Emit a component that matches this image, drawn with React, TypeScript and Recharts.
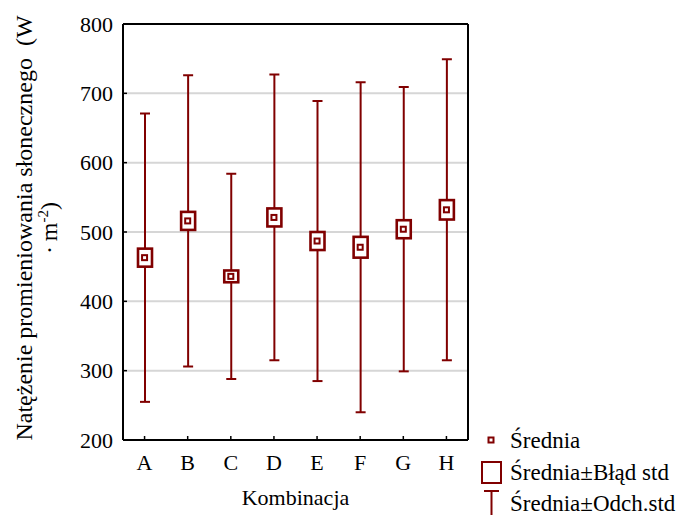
import {
  ComposedChart,
  Bar,
  Line,
  XAxis,
  YAxis,
  CartesianGrid,
} from "recharts";

// ─── Data ───────────────────────────────────────────────────────────────────
const categories = ["A", "B", "C", "D", "E", "F", "G", "H"];
const means = [463, 516, 436, 521, 487, 478, 504, 532];
const stdErr = [13, 13, 8.5, 13, 13, 15, 13, 14];
const stdDev = [208, 210, 148, 206, 202, 238, 205, 217];
const yTicks = [200, 300, 400, 500, 600, 700, 800];

const RED = "#800000";
const FONT = '"Liberation Serif", "Times New Roman", serif';

const data = categories.map((name, i) => ({
  name,
  mean: means[i],
  se: [means[i] - stdErr[i], means[i] + stdErr[i]],
  sd: [means[i] - stdDev[i], means[i] + stdDev[i]],
}));

// whisker: vertical line with caps at both ends
const Whisker = (props: any) => {
  const { x, y, width, height } = props;
  const cx = x + width / 2;
  const top = Math.min(y, y + height);
  const bot = Math.max(y, y + height);
  return (
    <g stroke={RED} strokeWidth={2} fill="none">
      <line x1={cx} x2={cx} y1={top} y2={bot} />
      <line x1={cx - 5} x2={cx + 5} y1={top} y2={top} />
      <line x1={cx - 5} x2={cx + 5} y1={bot} y2={bot} />
    </g>
  );
};

// mean ± std error box
const SeBox = (props: any) => {
  const { x, y, width, height } = props;
  const top = Math.min(y, y + height);
  return (
    <rect
      x={x}
      y={top}
      width={width}
      height={Math.abs(height)}
      fill="#fff"
      stroke={RED}
      strokeWidth={2.6}
    />
  );
};

const MeanDot = (props: any) => {
  const { cx, cy } = props;
  if (cx == null || cy == null) return null;
  return (
    <rect
      x={cx - 2.5}
      y={cy - 2.5}
      width={5}
      height={5}
      fill="#fff"
      stroke={RED}
      strokeWidth={2}
    />
  );
};

const YLabel = (props: any) => {
  const cy = props.viewBox.y + props.viewBox.height / 2;
  return (
    <g fontFamily={FONT} fontSize={24} fill="#000">
      <text x={32} y={cy - 4} textAnchor="middle" transform={`rotate(-90 32 ${cy - 4})`}>
        Natężenie promieniowania słonecznego{"\u00a0\u00a0"}(W
      </text>
      <text x={57} y={cy - 4} textAnchor="middle" transform={`rotate(-90 57 ${cy - 4})`}>
        {"·\u2009m"}
        <tspan dy={-9} fontSize={15}>
          -2
        </tspan>
        <tspan dy={9}>)</tspan>
      </text>
    </g>
  );
};

const XLabel = (props: any) => {
  const cx = props.viewBox.x + props.viewBox.width / 2;
  return (
    <text x={cx} y={505} textAnchor="middle" fontFamily={FONT} fontSize={22} fill="#000">
      Kombinacja
    </text>
  );
};

function LegendBox() {
  return (
    <svg
      width={681}
      height={515}
      style={{ position: "absolute", left: 0, top: 0, pointerEvents: "none" }}
    >
      <g fontFamily={FONT} fontSize={23} fill="#000">
        <rect x={488.5} y={437.5} width={5} height={5} fill="#fff" stroke={RED} strokeWidth={2} />
        <text x={510} y={448}>Średnia</text>
        <rect x={482} y={462} width={19} height={21} fill="#fff" stroke={RED} strokeWidth={2} />
        <text x={510} y={480}>Średnia±Błąd std</text>
        <line x1={484} x2={499} y1={491} y2={491} stroke={RED} strokeWidth={2} />
        <line x1={491.5} x2={491.5} y1={491} y2={515} stroke={RED} strokeWidth={2} />
        <text x={510} y={511}>Średnia±Odch.std</text>
      </g>
    </svg>
  );
}

export default function App() {
  const tickStyle = { fontSize: 22, fill: "#000", fontFamily: FONT };
  return (
    <div style={{ position: "absolute", left: 0, top: 0, width: 681, height: 515, background: "#fff" }}>
      <ComposedChart
        width={681}
        height={515}
        data={data}
        margin={{ top: 14, right: 203, bottom: 0, left: 0 }}
      >
        <CartesianGrid vertical={false} stroke="#d6d6d6" strokeWidth={2} />
        <XAxis
          dataKey="name"
          height={75}
          tick={tickStyle}
          tickSize={-4}
          tickMargin={18}
          tickLine={{ stroke: "#000", strokeWidth: 1.5 }}
          axisLine={{ stroke: "#000", strokeWidth: 2 }}
          interval={0}
          label={{ content: XLabel }}
        />
        <XAxis xAxisId="w" dataKey="name" hide />
        <XAxis
          xAxisId="t"
          dataKey="name"
          orientation="top"
          height={10}
          tick={false}
          tickLine={false}
          axisLine={{ stroke: "#000", strokeWidth: 2 }}
        />
        <YAxis
          domain={[200, 800]}
          ticks={yTicks}
          width={123}
          tick={tickStyle}
          tickSize={-4}
          tickMargin={14}
          tickLine={{ stroke: "#000", strokeWidth: 1.5 }}
          axisLine={{ stroke: "#000", strokeWidth: 2 }}
          allowDataOverflow
          label={{ content: YLabel }}
        />
        <YAxis
          yAxisId="r"
          orientation="right"
          domain={[200, 800]}
          ticks={yTicks}
          width={10}
          tick={false}
          tickSize={-4}
          tickLine={{ stroke: "#000", strokeWidth: 1.5 }}
          axisLine={{ stroke: "#000", strokeWidth: 2 }}
        />
        <Bar
          xAxisId="w"
          dataKey="sd"
          barSize={10}
          shape={Whisker}
          isAnimationActive={false}
        />
        <Bar dataKey="se" barSize={14} shape={SeBox} isAnimationActive={false} />
        <Line
          dataKey="mean"
          stroke="none"
          dot={MeanDot}
          activeDot={false}
          isAnimationActive={false}
        />
      </ComposedChart>
      <LegendBox />
    </div>
  );
}
